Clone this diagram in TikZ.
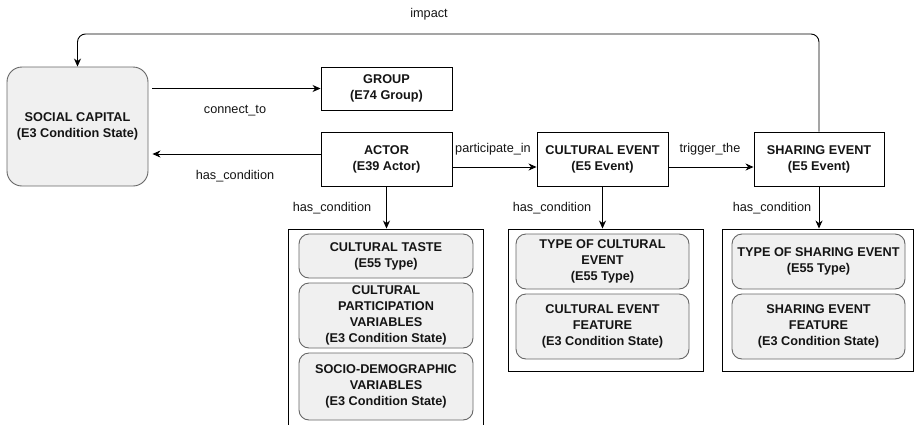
\documentclass[tikz,border=0pt]{standalone}
\usepackage{fontspec}
\setmainfont{Liberation Sans}
\usetikzlibrary{arrows.meta}
\definecolor{boxfill}{HTML}{F0F0F0}
\definecolor{boxedge}{HTML}{666666}
\definecolor{txt}{HTML}{141414}
\begin{document}
\begin{tikzpicture}[x=1pt,y=1pt,
  every node/.style={font=\fontsize{12.7}{16}\selectfont, text=txt},
  mainbox/.style={draw=black, line width=0.9pt, fill=white, align=center, inner sep=0pt,
    font=\fontsize{12.7}{16}\selectfont\bfseries},
  capbox/.style={draw=boxedge, line width=0.9pt, fill=boxfill, rounded corners=15pt, align=center, inner sep=0pt,
    font=\fontsize{12.7}{16}\selectfont\bfseries},
  container/.style={draw=black, line width=0.9pt, fill=white, inner sep=0pt},
  innerbox/.style={draw=boxedge, line width=0.9pt, fill=boxfill, rounded corners=10pt, align=center, inner sep=0pt,
    font=\fontsize{12.7}{16}\selectfont\bfseries},
  arr/.style={line width=0.9pt, -{Stealth[length=8pt,width=7pt,inset=2.5pt]}},
  lbl/.style={inner sep=0pt, anchor=center}
]
\useasboundingbox (0,0) rectangle (914,-424);

% main nodes
\node[capbox, minimum width=141pt, minimum height=119pt] (sc) at (77.5,-126.5) {SOCIAL CAPITAL\\(E3 Condition State)};
\node[mainbox, minimum width=131pt, minimum height=43pt] (grp) at (386.5,-88.5) {GROUP\\(E74 Group)};
\node[mainbox, minimum width=131pt, minimum height=54pt] (act) at (386.5,-159) {ACTOR\\(E39 Actor)};
\node[mainbox, minimum width=131pt, minimum height=54pt] (cev) at (602.5,-159) {CULTURAL EVENT\\(E5 Event)};
\node[mainbox, minimum width=130pt, minimum height=54pt] (sev) at (819,-159) {SHARING EVENT\\(E5 Event)};

% containers
\node[container, minimum width=195pt, minimum height=199pt] (c1) at (385.5,-328.5) {};
\node[container, minimum width=195pt, minimum height=142pt] (c2) at (605.5,-300) {};
\node[container, minimum width=191pt, minimum height=142pt] (c3) at (817.5,-300) {};

% inner boxes
\node[innerbox, minimum width=174pt, minimum height=44pt] (a1) at (386,-256) {CULTURAL TASTE\\(E55 Type)};
\node[innerbox, minimum width=174pt, minimum height=65pt] (a2) at (386,-315.5) {CULTURAL\\PARTICIPATION\\VARIABLES\\(E3 Condition State)};
\node[innerbox, minimum width=174pt, minimum height=67pt] (a3) at (386,-386.5) {SOCIO-DEMOGRAPHIC\\VARIABLES\\(E3 Condition State)};

\node[innerbox, minimum width=173pt, minimum height=55pt] (b1) at (602.5,-261.5) {TYPE OF CULTURAL\\EVENT\\(E55 Type)};
\node[innerbox, minimum width=173pt, minimum height=65pt] (b2) at (602.5,-326.5) {CULTURAL EVENT\\FEATURE\\(E3 Condition State)};

\node[innerbox, minimum width=173pt, minimum height=55pt] (d1) at (818.5,-261.5) {TYPE OF SHARING EVENT\\(E55 Type)};
\node[innerbox, minimum width=173pt, minimum height=65pt] (d2) at (818.5,-326.5) {SHARING EVENT\\FEATURE\\(E3 Condition State)};

% connectors
\draw[arr] ([xshift=4pt]sc.east |- grp.west) -- (grp.west);
\draw[arr] ([yshift=5pt]act.west) -- ([xshift=4pt]sc.east |- 0,-154);
\draw[arr] ([yshift=-8pt]act.east) -- (cev.west |- 0,-167);
\draw[arr] ([yshift=-8pt]cev.east) -- (sev.west |- 0,-167);
\draw[arr, rounded corners=8pt] (sev.north) -- (sev.north |- 0,-34) -- (sc.north |- 0,-34) -- (sc.north);
\draw[arr] (act.south) -- (act.south |- c1.north);
\draw[arr] (cev.south) -- (cev.south |- c2.north);
\draw[arr] (sev.south) -- (sev.south |- c3.north);

% labels
\node[lbl] (limp) at (429,-14) {impact};
\node[lbl] (lcon) at (235,-111) {connect\_to};
\node[lbl] (lhc0) at (235,-176) {has\_condition};
\node[lbl] (lpar) at (493,-149) {participate\_in};
\node[lbl] (ltrg) at (710,-149) {trigger\_the};
\node[lbl] (lhc1) at (332,-208) {has\_condition};
\node[lbl] (lhc2) at (552,-208) {has\_condition};
\node[lbl] (lhc3) at (772,-208) {has\_condition};
\end{tikzpicture}
\end{document}
